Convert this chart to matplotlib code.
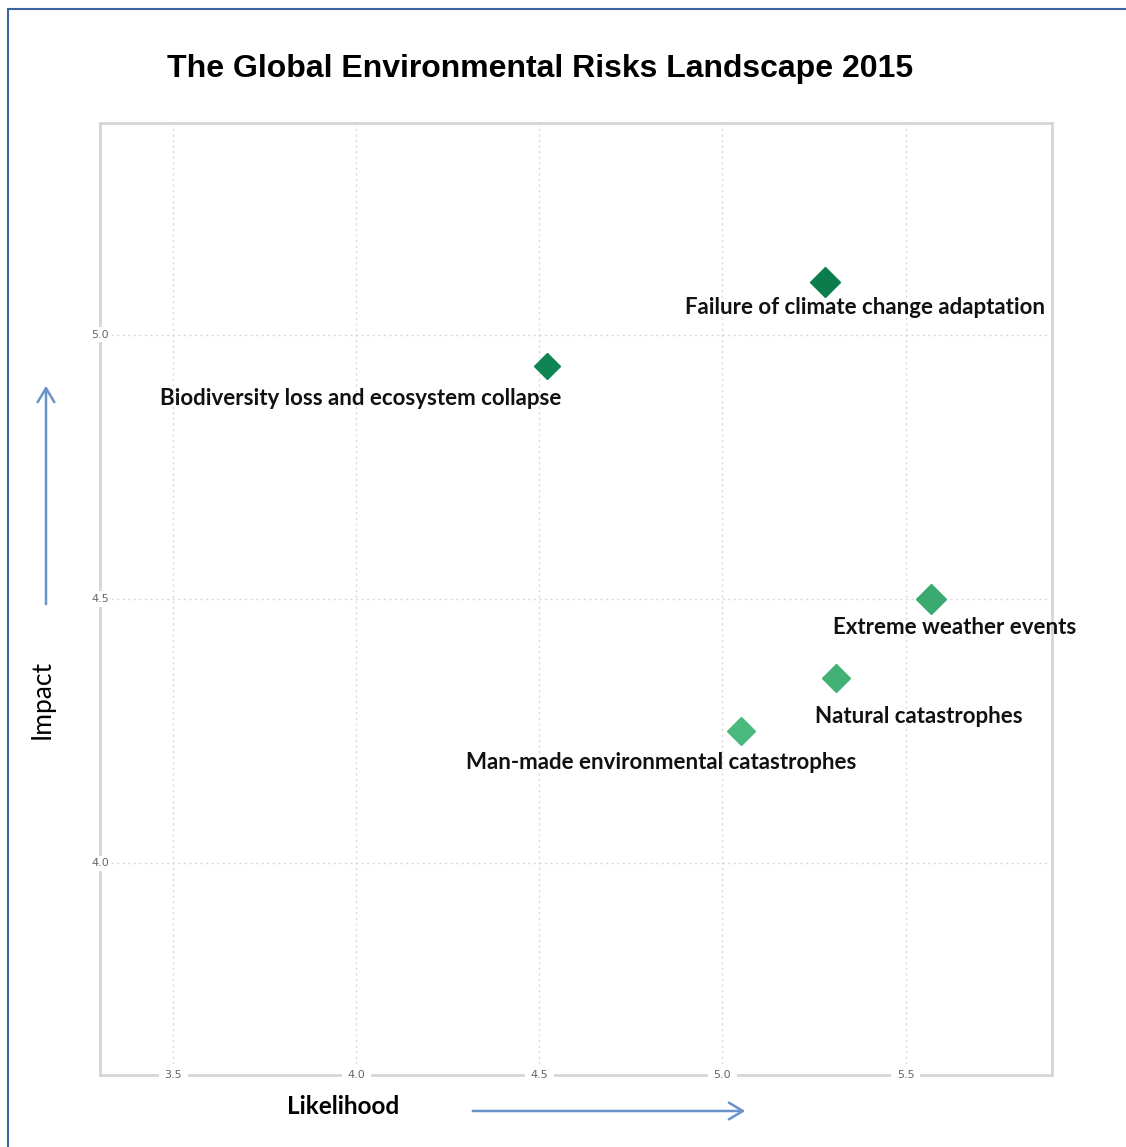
import matplotlib.pyplot as plt
from matplotlib.patches import Rectangle, FancyArrowPatch

# Risk data
risks = ["Failure of climate change adaptation",
         "Biodiversity loss and ecosystem collapse",
         "Extreme weather events",
         "Natural catastrophes",
         "Man-made environmental catastrophes"]
likelihood = [5.28, 4.52, 5.57, 5.31, 5.05]
impact = [5.10, 4.94, 4.50, 4.35, 4.25]
colors = ["#0b7d4c", "#0e8552", "#3aa96f", "#43b176", "#4bb87d"]
sizes = [15, 13, 15, 14.5, 14.5]
# label offsets in pixels from each marker
offsets = [(40, -26), (-186, -32), (23, -28), (83, -38), (-80, -31)]

xticks = [3.5, 4.0, 4.5, 5.0, 5.5]
yticks = [4.0, 4.5, 5.0]

fig = plt.figure(figsize=(11.26, 11.47), dpi=100)
W, H = 1126, 1147
ax = fig.add_axes([100 / W, 1 - 1075 / H, 952 / W, 952 / H])
ax.set_xlim(3.3, 5.9)
ax.set_ylim(3.6, 5.4)

for s in ax.spines.values():
    s.set_color("#d6d6d6")
    s.set_linewidth(2)

ax.set_xticks(xticks)
ax.set_yticks(yticks)
ax.tick_params(length=0)
ax.set_xticklabels([])
ax.set_yticklabels([])
for v in xticks:
    ax.text(v, 3.6, f"{v:.1f}", ha="center", va="center", fontsize=8, color="#666666",
            bbox=dict(facecolor="white", edgecolor="none", pad=4), zorder=5, clip_on=False)
for v in yticks:
    ax.text(3.3, v, f"{v:.1f}", ha="center", va="center", fontsize=8, color="#666666",
            bbox=dict(facecolor="white", edgecolor="none", pad=2), zorder=5, clip_on=False)
ax.grid(True, linestyle=(0, (1.5, 2.5)), color="#d8d8d8", linewidth=1)
ax.set_axisbelow(True)

for i in range(len(risks)):
    ax.plot(likelihood[i], impact[i], marker="D", markersize=sizes[i], color=colors[i],
            linestyle="none", zorder=3)
    ax.annotate(risks[i], (likelihood[i], impact[i]), xytext=offsets[i],
                textcoords="offset pixels", ha="center", va="center",
                fontsize=16, fontweight="bold", family="Lato", color="#111111", zorder=4)

fig.text(167 / W, 1 - 69 / H, "The Global Environmental Risks Landscape 2015",
         ha="left", va="center", fontsize=23, fontweight="bold", family="Liberation Sans")

fig.text(42 / W, 1 - 699 / H, "Impact", rotation=90, ha="center", va="center",
         fontsize=19, family="Lato")
fig.text(343 / W, 1 - 1107 / H, "Likelihood", ha="center", va="center",
         fontsize=17.5, fontweight="bold", family="Lato")

arrow_col = "#6a93cb"
fig.patches.append(FancyArrowPatch((46 / W, 1 - 607 / H), (46 / W, 1 - 383 / H),
                                   transform=fig.transFigure, arrowstyle="->,head_length=10,head_width=6",
                                   color=arrow_col, linewidth=1.8))
fig.patches.append(FancyArrowPatch((470 / W, 1 - 1111 / H), (748 / W, 1 - 1111 / H),
                                   transform=fig.transFigure, arrowstyle="->,head_length=10,head_width=6",
                                   color=arrow_col, linewidth=1.8))

# outer frame
fig.patches.append(Rectangle((8 / W, -0.01), 1.02 - 8 / W, 1 - 9 / H + 0.01,
                             transform=fig.transFigure, fill=False,
                             edgecolor="#3b64a0", linewidth=1.5))

fig.savefig("out.png", dpi=100)
